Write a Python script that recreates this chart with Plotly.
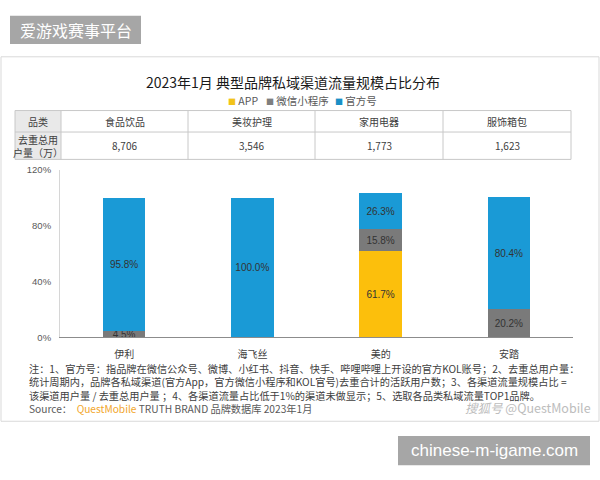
import plotly.graph_objects as go

# ---------------- data ----------------
brands = ["伊利", "海飞丝", "美的", "安踏"]
series_names = ["APP", "微信小程序", "官方号"]
app_vals = [None, None, 61.7, None]
mini_vals = [4.5, None, 15.8, 20.2]
official_vals = [95.8, 100.0, 26.3, 80.4]
series_colors = ["#fcbf0c", "#7a7a7a", "#1a9ad6"]
legend_colors = ["#f2c31a", "#7f7f7f", "#1a8fc6"]

table_header = ["品类", "食品饮品", "美妆护理", "家用电器", "服饰箱包"]
table_row = ["去重总用<br>户量（万）", "8,706", "3,546", "1,773", "1,623"]

y_ticks = [0, 40, 80, 120]
y_tick_labels = ["0%", "40%", "80%", "120%"]

title_text = "2023年1月 典型品牌私域渠道流量规模占比分布"
notes = [
    "注：1、官方号：指品牌在微信公众号、微博、小红书、抖音、快手、哔哩哔哩上开设的官方KOL账号；2、去重总用户量：",
    "统计周期内，品牌各私域渠道(官方App，官方微信小程序和KOL官号)去重合计的活跃用户数；3、各渠道流量规模占比 =",
    "该渠道用户量 / 去重总用户量 ；4、各渠道流量占比低于1%的渠道未做显示；5、选取各品类私域流量TOP1品牌。",
]
source_text = ("<span style='color:#595959'>Source：  </span><span style='color:#f2a62a'>QuestMobile</span>"
               "<span style='color:#595959'> TRUTH BRAND 品牌数据库 2023年1月</span>")

W, H = 600, 480
def px(x):
    return x / W
def py(y):
    return 1 - y / H

CJK = "Noto Sans CJK SC, Liberation Sans, sans-serif"
ARIAL = "Liberation Sans, Arial, sans-serif"

fig = go.Figure()

for name, vals, col in zip(series_names, [app_vals, mini_vals, official_vals], series_colors):
    fig.add_trace(go.Bar(
        x=brands, y=vals, name=name,
        marker=dict(color=col, line=dict(width=0)),
        text=[("" if v is None else f"{v:.1f}%") for v in vals],
        textposition="inside", insidetextanchor="middle",
        textangle=0, constraintext="none",
        textfont=dict(family=ARIAL, size=10, color="#333333"),
        showlegend=False, hoverinfo="skip",
    ))

annotations = []
shapes = []

# ---- table (drawn with shapes + text) ----
col_edges = [15, 61, 188, 315, 443, 571]
row_edges = [107, 129, 157]
grid = "#c8c8c8"
shapes.append(dict(type="rect", xref="paper", yref="paper", x0=px(col_edges[0]), x1=px(col_edges[1]),
                   y0=py(row_edges[2]), y1=py(row_edges[0]), fillcolor="#e9e9e9", line=dict(width=0),
                   layer="below"))
for ye in row_edges:
    shapes.append(dict(type="line", xref="paper", yref="paper", x0=px(col_edges[0]), x1=px(col_edges[-1]),
                       y0=py(ye), y1=py(ye), line=dict(color=grid, width=1)))
for xe in col_edges:
    shapes.append(dict(type="line", xref="paper", yref="paper", x0=px(xe), x1=px(xe),
                       y0=py(row_edges[0]), y1=py(row_edges[-1]), line=dict(color=grid, width=1)))
for r, row in enumerate([table_header, table_row]):
    yc = (row_edges[r] + row_edges[r + 1]) / 2
    for c, val in enumerate(row):
        xc = (col_edges[c] + col_edges[c + 1]) / 2
        annotations.append(dict(x=px(xc), y=py(yc), xref="paper", yref="paper", text=val,
                                showarrow=False, xanchor="center", yanchor="middle",
                                font=dict(family=CJK, size=10, color="#404040")))

# title
annotations.append(dict(x=px(293), y=py(78), xref="paper", yref="paper", text=title_text,
                        showarrow=False, xanchor="center", yanchor="middle",
                        font=dict(family=CJK, size=14, color="#1a1a1a")))
# legend
leg_x = [226, 264, 333]
for lx, name, col in zip(leg_x, series_names, legend_colors):
    annotations.append(dict(x=px(lx), y=py(97), xref="paper", yref="paper",
                            text=f"<span style='font-size:8px;color:{col}'>■</span> {name}",
                            showarrow=False, xanchor="left", yanchor="middle",
                            font=dict(family=CJK, size=10.5, color="#595959")))
# notes + source in one text block
annotations.append(dict(x=px(28), y=py(391.5), xref="paper", yref="paper",
                        text="<br>".join(notes + [source_text]),
                        showarrow=False, xanchor="left", yanchor="middle", align="left",
                        borderpad=0,
                        font=dict(family=CJK, size=10.2, color="#404040")))
annotations.append(dict(x=px(592), y=py(411), xref="paper", yref="paper",
                        text="<i>搜狐号</i> @QuestMobile",
                        showarrow=False, xanchor="right", yanchor="middle", borderpad=0,
                        font=dict(family=CJK, size=12.5, color="#bdbdbd")))
# badges
annotations.append(dict(x=px(75.5), y=py(24.5), xref="paper", yref="paper", text="爱游戏赛事平台",
                        showarrow=False, xanchor="center", yanchor="middle",
                        font=dict(family=CJK, size=16, color="#ffffff")))
annotations.append(dict(x=px(494), y=py(455), xref="paper", yref="paper", text="chinese-m-igame.com",
                        showarrow=False, xanchor="center", yanchor="middle",
                        font=dict(family=ARIAL, size=17, color="#ffffff")))

shapes += [
    dict(type="rect", xref="paper", yref="paper", x0=px(1), x1=px(599), y0=py(425), y1=py(52),
         line=dict(color="#d9d9d9", width=1), layer="below"),
    dict(type="rect", xref="paper", yref="paper", x0=px(10), x1=px(141), y0=py(39), y1=py(10),
         line=dict(width=0), fillcolor="#a6a6a6", layer="below"),
    dict(type="rect", xref="paper", yref="paper", x0=px(398), x1=px(590), y0=py(470), y1=py(440),
         line=dict(width=0), fillcolor="#a6a6a6", layer="below"),
]

fig.update_layout(
    width=W, height=H,
    margin=dict(l=0, r=0, t=0, b=0),
    paper_bgcolor="#ffffff", plot_bgcolor="rgba(0,0,0,0)",
    barmode="stack", bargap=0.67,
    showlegend=False,
    annotations=annotations, shapes=shapes,
    xaxis=dict(domain=[px(60), px(573)], showgrid=False, zeroline=False,
               showline=True, linecolor="#8c8c8c", linewidth=1, ticks="",
               tickfont=dict(family=CJK, size=10, color="#404040"), ticklabelstandoff=8,
               fixedrange=True),
    yaxis=dict(domain=[py(339), py(168)], range=[0, 120], tickvals=y_ticks, ticktext=y_tick_labels,
               showgrid=False, zeroline=False, showline=True, linecolor="#d6d6d6", linewidth=1,
               ticks="", tickfont=dict(family=ARIAL, size=9.5, color="#595959"),
               ticklabelstandoff=6, fixedrange=True),
)

fig.write_html("out.html")
